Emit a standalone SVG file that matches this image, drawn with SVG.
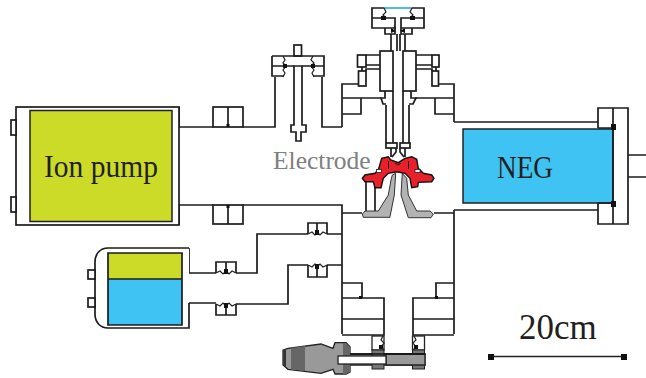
<svg xmlns="http://www.w3.org/2000/svg" width="646" height="378" viewBox="0 0 646 378">
<style>
.l{fill:none;stroke:#1c1c1c;stroke-width:1.700}
.w{fill:#fff;stroke:#1c1c1c;stroke-width:1.700}
.t{font-family:"Liberation Serif","Times New Roman",serif;fill:#231f20}
.k{fill:#111}
.z{fill:none;stroke:#222;stroke-width:1.200}
</style>
<rect width="646" height="378" fill="#fff"/>
<g id="connectors">
<path class="l" d="M179 107V127H213M243 127H275V77"/>
<path class="l" d="M322 77V127H342"/>
<path class="l" d="M179 225V205H213M243 205H342V334"/>
<path class="l" d="M189 248V273H216M236 273H257V234H308M327 234H342"/>
<path class="l" d="M189 303H216M236 304H288V265H308M327 265H342"/>
<path class="l" d="M454 122H598M454 210H598M454 210V334M454 213H434M342 213H362"/>
</g>
<g id="ion-pump">
<rect class="w" x="16" y="107" width="163" height="118"/>
<rect x="11" y="120" width="5" height="15" class="w"/>
<rect x="11" y="197" width="5" height="15" class="w"/>
<rect x="30" y="110.500" width="142" height="111" fill="#cbdb27" stroke="#222" stroke-width="1.500"/>
<text class="t" x="44" y="176.500" font-size="31" textLength="114" lengthAdjust="spacingAndGlyphs">Ion pump</text>
</g>
<g id="valve-upper">
<rect class="w" x="213" y="107" width="30" height="20"/>
<path class="l" d="M228 107V127"/><rect class="k" x="226.500" y="124" width="3" height="3"/>
</g>
<g id="valve-lower">
<rect class="w" x="213" y="205" width="30" height="19"/>
<path class="l" d="M228 205V224"/><rect class="k" x="226.500" y="205" width="3" height="3"/>
</g>
<g id="probe">
<rect class="w" x="294" y="45" width="7.500" height="11"/>
<path class="w" d="M294 66H302V125H306V132H301V141H296V132H291V125H294Z"/>
<path class="l" d="M272 56H324V76H313M272 56V76H284M272 66H294M302 66H324"/>
<path class="z" d="M283 56L285 60L283 63L286 66L283 70L285 73L283 77M313 56L311 60L314 63L311 66L314 70L312 73L314 77"/>
<rect class="k" x="283" y="64" width="4" height="4"/><rect class="k" x="311" y="64" width="4" height="4"/>
</g>
<g id="column">
<path class="l" d="M384 8H372V28H396M372 18H395V34H385V28M412 8H424V28H401M424 18H401V34H412V28"/>
<path d="M384 8H412" fill="none" stroke="#29a9e0" stroke-width="1.600"/>
<path class="z" d="M384 8L386 12L383 15L386 18M412 8L410 12L413 15L410 18"/>
<rect class="k" x="381" y="16" width="5" height="4"/><rect class="k" x="410" y="16" width="5" height="4"/>
<path class="k" d="M391 28L396 31L391 33ZM405 28L400 31L405 33Z"/>
<path class="l" d="M391 34V51M397 34V51M400 34V51M405 34V51"/>
<rect class="w" x="380" y="51" width="13" height="40"/>
<rect class="w" x="403" y="51" width="13" height="40"/>
<path class="l" d="M393 91V143M403 91V143M386 105V143M409 105V143M385 91V98L381 98L383 104H386M411 91V98H416L413 104H409"/>
<rect class="w" x="357.500" y="55" width="8.500" height="12"/><path class="l" d="M366 55H380M366 65H380"/>
<rect class="w" x="358.500" y="71" width="7.500" height="15"/><path class="l" d="M366 71V69H380M362 67V71"/>
<path class="l" d="M416 55H432M416 65H432"/><rect class="w" x="432" y="55" width="7" height="12"/>
<rect class="w" x="432" y="71" width="6.500" height="15"/><path class="l" d="M432 71V69H416M436 67V71"/>
<path class="l" d="M358 84H342V127M342 98H381M361 98V114H342"/>
<path class="l" d="M438 84H454V122M454 98H415M435 98V114H454"/>
</g>
<g id="electrode">
<rect class="w" x="366" y="181" width="9" height="31"/>
<path d="M392.300 175L395.700 173.300L394.300 195L390 216.700V217.300L363.300 217.300L362.300 214L365 211H378.300L388.300 195L391 180Z" fill="#b3b3b3" stroke="#333" stroke-width="1"/>
<path d="M402.300 173.300L406.700 178.300L408.300 195L416.700 211H430L433.300 214L431 217.700H408.300L401 195Z" fill="#b3b3b3" stroke="#333" stroke-width="1"/>
<rect class="w" x="386" y="143" width="11" height="5"/><rect class="w" x="400" y="143" width="10" height="5"/>
<path class="l" d="M391 148V157M396 148V152L392 157M405 148V157M400 148V152L404 157"/>
<path d="M378.300 170L381.700 158.300L388.300 156.700L390.700 160L398.300 162.700L405 158.300L411.700 156.700L416.700 159.300L418.300 168.300L423.300 173.300L431.700 175L434 178.300L431.700 181.700L418.300 182.300L417.700 186.700L411.700 187.700L410 178.300L405 173.300L396.700 171.700L388.300 173.300L383.300 178.300L381 187.700L375 187.700L373.300 181.700L365 181.700L362.300 178.300L365 175L375 173.300Z" fill="#e8202a" stroke="#111" stroke-width="1.400"/>
<rect x="376.500" y="169.500" width="5" height="3" fill="#fff" stroke="#222" stroke-width=".8"/>
<rect x="415" y="169.500" width="5" height="3" fill="#fff" stroke="#222" stroke-width=".8"/>
<path d="M388.500 161V169M408.500 161V169M395 163L398 165L401 163" fill="none" stroke="#111" stroke-width="1"/>
<text x="273" y="169" font-size="25.500" class="t" style="fill:#808080">Electrode</text>
</g>
<g id="neg-pump">
<rect x="463" y="129" width="150" height="74" fill="#3fc3f2" stroke="#222" stroke-width="1.500"/>
<path class="l" d="M598 128V108H628V224H598V203M613 108V224M598 128H613M598 203H613M628 155H646M628 177H646"/>
<rect class="k" x="611" y="124" width="5" height="6"/><rect class="k" x="611" y="201" width="5" height="6"/>
<text class="t" x="497" y="177.500" font-size="32" textLength="56" lengthAdjust="spacingAndGlyphs">NEG</text>
</g>
<g id="small-pump">
<path class="w" d="M189 248H108C100 248 95 254 95 262V314C95 322 100 328 108 328H189V303"/>
<rect x="88" y="270" width="7" height="9" class="w"/><rect x="88" y="298" width="7" height="9" class="w"/>
<rect x="108" y="253" width="74" height="26" fill="#cbdb27"/>
<rect x="108" y="279" width="74" height="46" fill="#3fc3f2"/>
<path class="l" d="M108 253H182V325H108ZM108 279H182"/>
</g>
<g id="valve-a">
<path class="l" d="M216 273V262H236V273M226 262V273"/>
<path class="z" d="M216 273L220 271L223 274L226 271L229 274L232 271L236 273"/><rect class="k" x="224" y="269" width="4" height="5"/>
</g>
<g id="valve-b">
<path class="l" d="M216 304V315H236V304M226 304V315"/>
<path class="z" d="M216 304L220 306L223 303L226 306L229 303L232 306L236 304"/><rect class="k" x="224" y="303" width="4" height="5"/>
</g>
<g id="valve-c">
<path class="l" d="M308 234V223H327V234M317 223V234"/>
<path class="z" d="M308 234L312 232L315 235L317 232L320 235L323 232L327 234"/><rect class="k" x="315" y="230" width="4" height="5"/>
</g>
<g id="valve-d">
<path class="l" d="M308 265V277H327V265M317 265V277"/>
<path class="z" d="M308 265L312 267L315 264L317 267L320 264L323 267L327 265"/><rect class="k" x="315" y="264" width="4" height="5"/>
</g>
<g id="lower-flanges">
<path class="l" d="M342 283H362V298M342 298H384V335H342M342 319H384"/>
<path class="l" d="M454 283H436V298M454 298H413V335H454M413 319H454"/>
<rect class="k" x="359" y="296" width="3" height="3"/><rect class="k" x="435" y="296" width="3" height="3"/>
</g>
<g id="gauge">
<rect x="372" y="336" width="12" height="14" fill="#fff" stroke="#222" stroke-width="1.300"/>
<rect x="412.500" y="336" width="12" height="14" fill="#fff" stroke="#222" stroke-width="1.300"/>
<path d="M283 350L288 348.300L321 344L333 348.300L335 342.700L346 342.700L350 346.700V354H425V365H350V372L346 374L335 374L333 369.300L321 373.300L288 369.300L283 365Z" fill="#999" stroke="#222" stroke-width="1.300"/>
<path d="M291 348L305 346V371L291 369.500Z" fill="#666"/>
<path d="M283.500 350L286 349V367L283.500 365Z" fill="#333"/>
<path d="M343 343L346 343L350 347V372L346 374L343 374Z" fill="#666"/>
<rect x="372" y="350" width="12" height="19" fill="#777" stroke="#222" stroke-width="1"/>
<rect x="412.500" y="350" width="12" height="19" fill="#777" stroke="#222" stroke-width="1"/>
<path d="M386 354H425V365H386Z" fill="#999" stroke="#222" stroke-width="1.300"/>
<path d="M350 354H425" stroke="#111" stroke-width="1.700" fill="none"/>
<rect x="338" y="356" width="48" height="8" fill="#fff" stroke="#222" stroke-width="1.300"/>
<path class="z" d="M383 336L381 340L384 343L381 347L384 350M414 336L416 340L413 343L416 347L413 350"/>
<rect class="k" x="379" y="345" width="4" height="4"/><rect class="k" x="414" y="345" width="4" height="4"/>
</g>
<g id="scale">
<path d="M491 356.500H624" stroke="#222" stroke-width="1.600" fill="none"/>
<rect class="k" x="488" y="354" width="6" height="6"/><rect class="k" x="621" y="354" width="6" height="6"/>
<text class="t" x="519" y="339" font-size="35">20cm</text>
</g>
</svg>
